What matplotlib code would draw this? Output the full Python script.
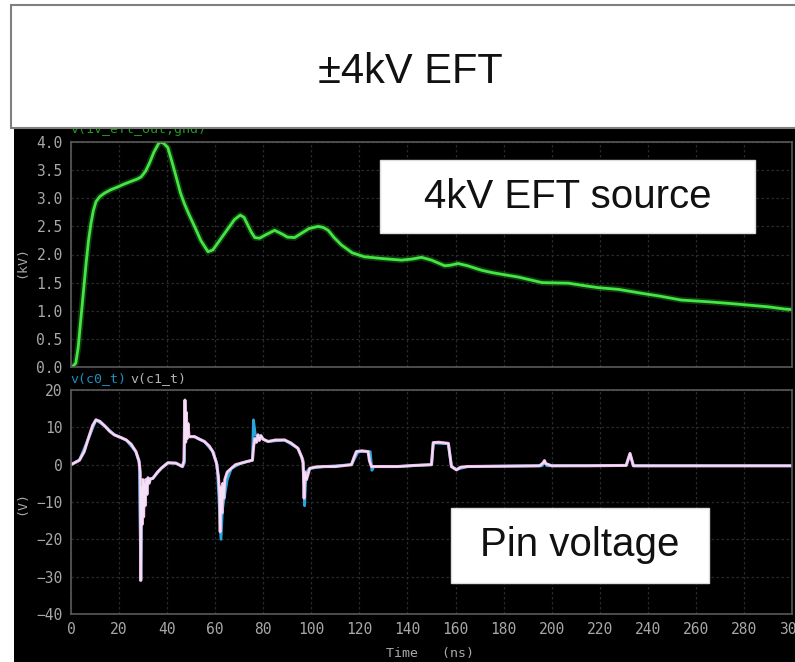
import numpy as np
import matplotlib
matplotlib.use("Agg")
import matplotlib.pyplot as plt
from matplotlib.patches import Rectangle

W, H = 795, 662
MONO = "DejaVu Sans Mono"
TICK_COLOR = "#a8a8a8"
GRID_COLOR = "#2a2a2a"
SPINE_COLOR = "#5a5a5a"

# EFT source, v(1v_eft_out,gnd) in kV
src_t = [0, 0.5, 2, 3, 4.2, 5.2, 6.3, 7.3, 8.3, 9.3, 10.4, 12, 13.9, 16.5, 19.4, 22, 25, 27.5,
         29.2, 31, 32.6, 34.5, 36.8, 38.5, 40.3, 42, 43.75, 45.5, 47.2, 49, 51.4, 54, 57, 59,
         61, 63.5, 66, 68, 70.4, 72, 73.6, 75, 76.5, 78.5, 81, 84.7, 88, 90, 93, 96, 99, 102.8,
         105, 107, 109.5, 112.5, 117, 122, 129, 137.5, 142, 145.8, 150, 155.5, 158, 161, 165,
         170.8, 175, 179, 186, 191, 196, 207, 213, 219.4, 227.8, 237.5, 245, 254, 265, 274,
         282, 290, 297, 300]
src_v = [0, 0.0, 0.07, 0.35, 0.9, 1.35, 1.85, 2.25, 2.55, 2.78, 2.94, 3.03, 3.09, 3.15, 3.2,
         3.25, 3.3, 3.34, 3.38, 3.48, 3.62, 3.82, 4.0, 3.98, 3.9, 3.65, 3.38, 3.1, 2.9, 2.72,
         2.5, 2.25, 2.05, 2.08, 2.2, 2.35, 2.5, 2.62, 2.7, 2.66, 2.52, 2.4, 2.3, 2.29, 2.35,
         2.43, 2.36, 2.31, 2.3, 2.38, 2.46, 2.5, 2.48, 2.43, 2.3, 2.17, 2.03, 1.96, 1.93, 1.9,
         1.92, 1.95, 1.9, 1.8, 1.81, 1.84, 1.8, 1.72, 1.68, 1.65, 1.6, 1.55, 1.5, 1.49, 1.45,
         1.41, 1.38, 1.31, 1.26, 1.19, 1.16, 1.13, 1.1, 1.07, 1.03, 1.02]

# pin voltage v(c0_t), in V
c0_points = [(0, 0), (3.5, 1.2), (7, 6.6), (10.4, 12), (14, 10.4), (18, 8), (23, 6.6), (27, 3.5),
             (28.4, 0.5), (29.05, -31), (29.5, -5), (31, -4), (34, -3.7), (37.5, -1), (40.3, 0.5),
             (43.7, 0.4), (46.5, -0.5), (47.2, 0.5), (47.5, 16), (48.2, 7.5), (51.4, 7.5),
             (55.5, 6.2), (59, 3.5), (60.8, 0), (62.4, -20), (63.0, -12), (64.0, -8), (65.0, -4),
             (66.7, -1), (70.8, 0.4), (75.5, 1.2), (75.9, 12), (76.7, 8), (77.8, 7.5), (82, 6.2),
             (88.9, 6.6), (94.4, 4.4), (96.5, 1.3), (97.2, -11), (97.8, -2), (99.3, -1),
             (105.6, -0.5), (116.7, 0), (119.5, 3.5), (124.5, 3.5), (125.2, -1.5), (126, -0.5),
             (136, -0.5), (150, 0), (150.8, 5.8), (157, 5.6), (158.3, -0.5), (160.4, -1.3),
             (165, -0.5), (196, -0.3), (197, 0.8), (198, -0.3), (231, -0.2), (232.6, 2.8),
             (234, -0.3), (300, -0.3)]

# pin voltage v(c1_t), in V
c1_points = [(0, 0), (3.5, 1.2), (5.5, 3.5), (7, 6.6), (9, 10.5), (10.4, 12), (12, 11.6),
             (14, 10.4), (16, 9), (18, 8), (21, 7.2), (23, 6.6), (25, 5.5), (27, 3.5), (28.3, 1.0),
             (28.8, -2), (29.0, -31), (29.3, -6), (29.6, -16), (29.9, -4), (30.2, -14), (30.5, -5),
             (30.8, -11), (31.2, -4), (31.6, -8), (32.0, -3.5), (32.5, -5), (33, -3.8), (34, -3.7),
             (36, -2), (37.5, -1), (40.3, 0.5), (43.7, 0.4), (46.3, -0.5), (47.0, 1), (47.4, 17.3),
             (47.7, 6), (48.0, 14), (48.3, 7), (48.7, 11), (49.1, 7.5), (51.4, 7.5), (53.5, 6.8),
             (55.5, 6.2), (57.5, 5), (59, 3.5), (60.5, 0.5), (61.3, -3), (61.8, -8), (62.1, -18),
             (62.4, -6), (62.8, -13), (63.2, -5), (63.6, -9), (64.0, -4), (65, -2), (66.7, -1),
             (68.5, 0), (70.8, 0.4), (73, 0.8), (75.5, 1.2), (76.0, 5), (76.5, 7), (77.2, 6),
             (77.8, 8), (78.4, 6.5), (79, 7.8), (80, 6.8), (82, 6.2), (85, 6.6), (88.9, 6.6),
             (91.5, 5.8), (94.4, 4.4), (96, 2), (96.6, 0.5), (97.0, -9), (97.4, -2), (98, -4),
             (99.3, -1), (102, -0.6), (105.6, -0.5), (110, -0.5), (116.7, 0), (117.8, 2),
             (118.75, 3.5), (121, 3.7), (123.6, 3.5), (124.2, 1), (125, -0.5), (130, -0.5),
             (136, -0.5), (143, -0.2), (150, 0), (150.7, 5.9), (153, 6.0), (157, 5.7),
             (158.3, -0.5), (160.4, -1.4), (162, -0.7), (165, -0.5), (180, -0.4), (195, -0.3),
             (196.5, 0.5), (197, 1.1), (197.5, 0.3), (200, -0.3), (215, -0.3), (231, -0.2),
             (232.6, 3.0), (234, -0.3), (240, -0.3), (260, -0.3), (280, -0.3), (300, -0.3)]

x_ticks = list(range(0, 301, 20))
top_ticks = [0.0, 0.5, 1.0, 1.5, 2.0, 2.5, 3.0, 3.5, 4.0]
bot_ticks = [-40, -30, -20, -10, 0, 10, 20]


def fig_rect(x0, y0, x1, y1):
    # pixel box (top-left origin) -> figure fraction [l, b, w, h]
    return [x0 / W, 1 - y1 / H, (x1 - x0) / W, (y1 - y0) / H]


def style_axes(ax):
    ax.set_facecolor("black")
    for s in ax.spines.values():
        s.set_color(SPINE_COLOR)
        s.set_linewidth(1.2)
    ax.grid(True, color=GRID_COLOR, linestyle=(0, (2, 2)), linewidth=0.9)
    ax.tick_params(length=0, pad=6, labelcolor=TICK_COLOR, labelsize=10.5)
    for lab in ax.get_xticklabels() + ax.get_yticklabels():
        lab.set_fontfamily(MONO)


fig = plt.figure(figsize=(W / 100, H / 100), dpi=100, facecolor="white")

# black scope background
fig.add_artist(Rectangle((14 / W, 0), 1, 1 - 128 / H, transform=fig.transFigure,
                         facecolor="black", edgecolor="none", zorder=-2))

ax1 = fig.add_axes(fig_rect(71, 142, 792, 367))
ax1.plot(src_t, src_v, color="#3fe23f", linewidth=4.5, alpha=0.25, solid_joinstyle="round")
ax1.plot(src_t, src_v, color="#44e644", linewidth=2.0, solid_joinstyle="round")
ax1.set_xlim(0, 300)
ax1.set_ylim(0, 4.0)
ax1.set_xticks(x_ticks)
ax1.set_xticklabels([])
ax1.set_yticks(top_ticks)
ax1.set_yticklabels([f"{v:.1f}" for v in top_ticks])
style_axes(ax1)

ax2 = fig.add_axes(fig_rect(71, 390, 792, 614))
c0_t, c0_v = zip(*c0_points)
c1_t, c1_v = zip(*c1_points)
ax2.plot(c0_t, c0_v, color="#2aa6dc", linewidth=2.0)
ax2.plot(c1_t, c1_v, color="#f0b8ea", linewidth=2.2)
ax2.plot(c1_t, c1_v, color="#f3e2f5", linewidth=1.0)
ax2.set_xlim(0, 300)
ax2.set_ylim(-40, 20)
ax2.set_xticks(x_ticks)
ax2.set_yticks(bot_ticks)
style_axes(ax2)

# trace names and axis units
fig.text(70 / W, 1 - 130 / H, "v(1v_eft_out,gnd)", color="#1f9a1f", fontsize=9.5,
         family=MONO, va="center", zorder=1)
fig.text(70 / W, 1 - 379 / H, "v(c0_t)", color="#1c8fbf", fontsize=9.5,
         family=MONO, va="center")
fig.text(130 / W, 1 - 379 / H, "v(c1_t)", color="#b8b0b8", fontsize=9.5,
         family=MONO, va="center")
fig.text(22 / W, 1 - 262 / H, "(kV)", color=TICK_COLOR, fontsize=9.5, family=MONO,
         rotation=90, ha="center", va="center")
fig.text(22 / W, 1 - 503 / H, "(V)", color=TICK_COLOR, fontsize=9.5, family=MONO,
         rotation=90, ha="center", va="center")
fig.text(430 / W, 1 - 653 / H, "Time   (ns)", color=TICK_COLOR, fontsize=9.5, family=MONO,
         ha="center", va="center")

# title box
fig.add_artist(Rectangle((11 / W, 1 - 128 / H), 1, (128 - 5) / H, transform=fig.transFigure,
                         facecolor="white", edgecolor="#808080", linewidth=1.5, zorder=2))
fig.text(410 / W, 1 - 72 / H, "±4kV EFT", fontsize=30, color="#111111",
         family=["Liberation Sans Narrow", "Liberation Sans", "DejaVu Sans"],
         ha="center", va="center", zorder=3)

# annotation boxes
for (x0, y0, x1, y1), label in [((380, 160, 755, 233), "4kV EFT source"),
                                ((451, 508, 709, 583), "Pin voltage")]:
    fig.add_artist(Rectangle((x0 / W, 1 - y1 / H), (x1 - x0) / W, (y1 - y0) / H,
                             transform=fig.transFigure, facecolor="white",
                             edgecolor="#dddddd", linewidth=1, zorder=4))
    fig.text((x0 + x1) / 2 / W, 1 - (y0 + y1) / 2 / H, label, fontsize=29, color="#111111",
             family=["Liberation Sans", "DejaVu Sans"], ha="center", va="center", zorder=5)

fig.savefig("out.png", dpi=100, facecolor="white")
